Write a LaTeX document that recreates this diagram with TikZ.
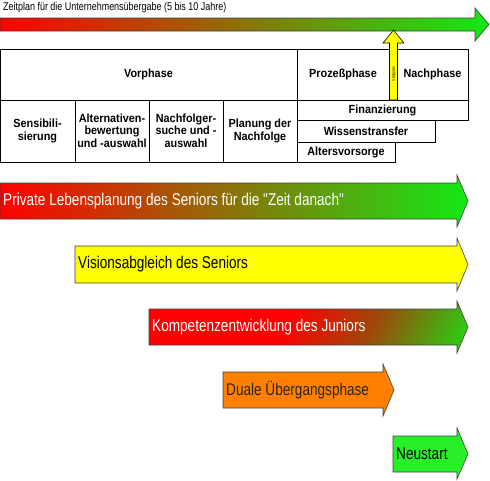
\documentclass[tikz,border=0pt]{standalone}
\usepackage{fontspec}
\setmainfont{Liberation Sans}
\newfontfamily\nar[FakeStretch=0.80]{Liberation Sans}
\newfontfamily\narb[FakeStretch=0.92]{Liberation Sans}
\definecolor{gr}{RGB}{20,232,20}
\definecolor{org}{RGB}{255,128,0}
\definecolor{ylw}{RGB}{255,255,0}
\definecolor{brn}{RGB}{160,70,10}
\definecolor{neu}{RGB}{40,240,40}
\pgfdeclarehorizontalshading{kompshade}{100bp}{color(0bp)=(red); color(45bp)=(red); color(62bp)=(brn); color(85bp)=(gr); color(100bp)=(gr)}
\begin{document}
\begin{tikzpicture}[x=1pt,y=-1pt,
  outl/.style={draw=black!75, line width=0.6pt},
  tbl/.style={draw=black, line width=0.8pt},
  cell/.style={font=\narb\bfseries\fontsize{11.8}{12.5}\selectfont, align=center, inner sep=0pt},
  biglab/.style={font=\nar\fontsize{17}{20}\selectfont, anchor=west, inner sep=0pt}]
\useasboundingbox (0,0) rectangle (490,480);

% top timeline arrow
\shade[outl, left color=red, right color=gr] (0,18) -- (475,18) -- (475,8) -- (489,24.5) -- (475,41) -- (475,31) -- (0,31) -- cycle;
\node[anchor=west, inner sep=0pt, font=\nar\fontsize{11.2}{12}\selectfont] (zp) at (3,8) {Zeitplan für die Unternehmensübergabe (5 bis 10 Jahre)};

% table
\draw[tbl] (0,49) rectangle (297,100);
\node[cell] (vor) at (148.5,74.5) {Vorphase};
\draw[tbl] (297,49) rectangle (468,100);
\node[cell] (proz) at (343,74.5) {Prozeßphase};
\node[cell] (nach) at (432.5,74.5) {Nachphase};

\draw[tbl] (0,100) rectangle (75,162);
\draw[tbl] (75,100) rectangle (149,162);
\draw[tbl] (149,100) rectangle (223,162);
\draw[tbl] (223,100) rectangle (297,162);
\node[cell] (sens) at (37.5,131) {Sensibili-\\sierung};
\node[cell] (alt) at (112,130.5) {Alternativen-\\bewertung\\und -auswahl};
\node[cell] (nf) at (186,130.5) {Nachfolger-\\suche und -\\auswahl};
\node[cell] (plan) at (260,131) {Planung der\\Nachfolge};

\draw[tbl] (297,100) rectangle (468,120);
\draw[tbl] (297,120) rectangle (435,142);
\draw[tbl] (297,142) rectangle (395,162);
\node[cell] (fin) at (382.5,110) {Finanzierung};
\node[cell] (wis) at (366,131) {Wissenstransfer};
\node[cell] (alv) at (346,152) {Altersvorsorge};

% Uebergabe arrow
\draw[line width=0.6pt, fill=ylw] (389.5,100) -- (389.5,43) -- (383,43) -- (393.5,30) -- (404,43) -- (397.5,43) -- (397.5,100) -- cycle;
\node[rotate=90, font=\nar\fontsize{4}{4}\selectfont, inner sep=0pt] (ueb) at (393.5,74) {Übergabe};

% big arrows
\shade[outl, left color=red, right color=gr] (0,183) -- (457,183) -- (457,175) -- (468,201) -- (457,227) -- (457,219) -- (0,219) -- cycle;
\node[biglab, text=white] (priv) at (3,201) {Private Lebensplanung des Seniors für die "Zeit danach"};

\draw[outl, fill=ylw] (75,246) -- (457,246) -- (457,238) -- (468,264.5) -- (457,291) -- (457,283) -- (75,283) -- cycle;
\node[biglab] (vis) at (78,264.5) {Visionsabgleich des Seniors};

\shade[outl, shading=kompshade, shading angle=-25] (149,309) -- (457,309) -- (457,301) -- (468,327) -- (457,353) -- (457,345) -- (149,345) -- cycle;
\node[biglab, text=white] (komp) at (152,327) {Kompetenzentwicklung des Juniors};

\draw[outl, fill=org] (223,372) -- (383,372) -- (383,364) -- (394,390) -- (383,416) -- (383,408) -- (223,408) -- cycle;
\node[biglab, text=black!85] (dual) at (226,390) {Duale Übergangsphase};

\draw[outl, fill=neu] (393,436) -- (457,436) -- (457,428) -- (468,454) -- (457,479) -- (457,472) -- (393,472) -- cycle;
\node[biglab] (neu) at (396,454) {Neustart};
\end{tikzpicture}
\end{document}
